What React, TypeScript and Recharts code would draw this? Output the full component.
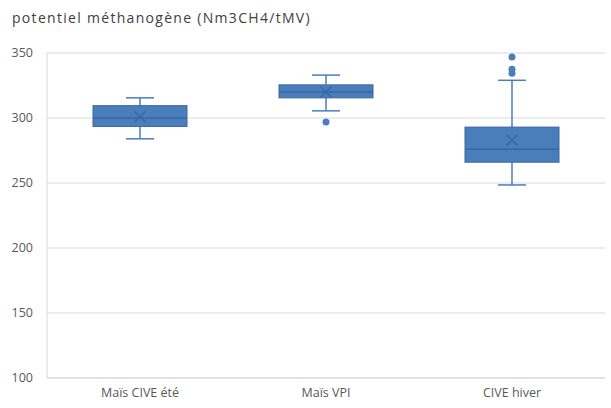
import { ComposedChart, Bar, XAxis, YAxis, CartesianGrid } from 'recharts'

const categories = ['Maïs CIVE été', 'Maïs VPI', 'CIVE hiver']
const whiskerLow = [284, 305.5, 248.5]
const q1 = [293.5, 315.5, 266]
const median = [300, 320, 276]
const q3 = [309.5, 325.5, 293]
const whiskerHigh = [315.5, 333, 329]
const mean = [301, 320, 283]
const outliers = [[], [297], [334.5, 337.5, 347]]
const yTicks = [100, 150, 200, 250, 300, 350]

const data = categories.map((name, i) => ({
  name,
  box: [q1[i], q3[i]],
  low: whiskerLow[i],
  q1: q1[i],
  median: median[i],
  q3: q3[i],
  high: whiskerHigh[i],
  mean: mean[i],
  outliers: outliers[i],
}))

const FILL = '#4a7ebb'
const EDGE = '#3a67a2'

function BoxShape(props: any) {
  const { x, y, width, height, payload } = props
  const top = Math.min(y, y + height)
  const h = Math.abs(height)
  const k = h / (payload.q3 - payload.q1)
  const py = (v: number) => top + (payload.q3 - v) * k
  const cx = x + width / 2
  const cap = 14
  const m = 5.5
  const my = py(payload.mean)
  return (
    <g>
      <line x1={cx} x2={cx} y1={py(payload.high)} y2={top} stroke={FILL} strokeWidth={1.5} />
      <line x1={cx} x2={cx} y1={top + h} y2={py(payload.low)} stroke={FILL} strokeWidth={1.5} />
      <line x1={cx - cap} x2={cx + cap} y1={py(payload.high)} y2={py(payload.high)} stroke={FILL} strokeWidth={1.5} />
      <line x1={cx - cap} x2={cx + cap} y1={py(payload.low)} y2={py(payload.low)} stroke={FILL} strokeWidth={1.5} />
      <rect x={x} y={top} width={width} height={h} fill={FILL} stroke={EDGE} strokeWidth={1} />
      <line x1={x} x2={x + width} y1={py(payload.median)} y2={py(payload.median)} stroke={EDGE} strokeWidth={1.5} />
      <line x1={cx - m} x2={cx + m} y1={my - m} y2={my + m} stroke={EDGE} strokeWidth={1.5} />
      <line x1={cx - m} x2={cx + m} y1={my + m} y2={my - m} stroke={EDGE} strokeWidth={1.5} />
      {payload.outliers.map((v: number, j: number) => (
        <circle key={j} cx={cx} cy={py(v)} r={3.5} fill={FILL} />
      ))}
    </g>
  )
}

export default function App() {
  return (
    <div style={{ position: 'absolute', left: 0, top: 0, width: 611, height: 408, background: '#fff' }}>
      <div
        style={{
          position: 'absolute',
          left: 12,
          top: 8,
          fontFamily: '"Open Sans", sans-serif',
          fontSize: 14,
          letterSpacing: 1.3,
          color: '#404040',
          whiteSpace: 'nowrap',
        }}
      >
        potentiel méthanogène (Nm3CH4/tMV)
      </div>
      <ComposedChart
        width={611}
        height={408}
        data={data}
        margin={{ top: 53, right: 6, left: 0, bottom: 0 }}
        style={{ fontFamily: '"Open Sans", sans-serif' }}
      >
        <CartesianGrid vertical={false} stroke="#d9d9d9" />
        <XAxis
          dataKey="name"
          height={30}
          tickLine={false}
          tickSize={0}
          tickMargin={10}
          axisLine={{ stroke: '#d9d9d9' }}
          tick={{ fontSize: 12.5, fill: '#595959' }}
        />
        <YAxis
          width={47}
          domain={[100, 350]}
          ticks={yTicks}
          tickLine={false}
          tickSize={0}
          tickMargin={14}
          axisLine={{ stroke: '#d9d9d9' }}
          tick={{ fontSize: 12.5, fill: '#595959' }}
        />
        <Bar dataKey="box" barSize={94} shape={BoxShape} isAnimationActive={false} />
      </ComposedChart>
    </div>
  )
}
